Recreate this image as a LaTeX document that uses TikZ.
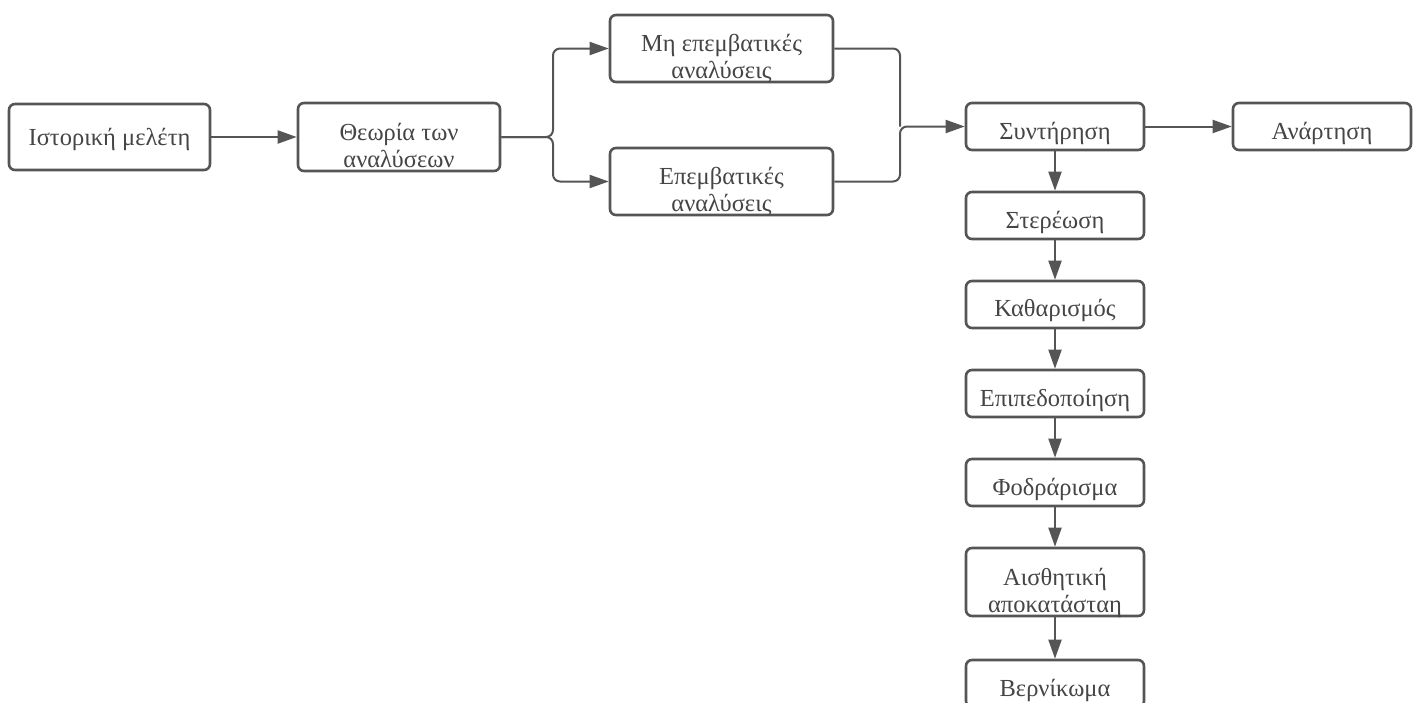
\documentclass[tikz,border=0pt]{standalone}
\usepackage{fontspec}
\setmainfont{Liberation Serif}
\usetikzlibrary{arrows.meta}
\definecolor{edge}{HTML}{555555}
\definecolor{txt}{HTML}{454545}
\tikzset{
  box/.style={draw=edge, line width=2.6pt, rounded corners=6pt, fill=white, inner sep=0pt},
  wide/.style={box, minimum width=223pt, minimum height=67pt},
  narrow/.style={box, minimum width=178pt, minimum height=47pt},
  lbl/.style={anchor=base, inner sep=0pt, text=txt, font=\fontsize{24.5}{26.5}\selectfont, align=center},
  conn/.style={draw=edge, line width=2pt, -{Triangle[length=19pt,width=13pt]}},
}
\begin{document}
\begin{tikzpicture}[x=1pt,y=-1pt]
\useasboundingbox (0,0) rectangle (1416,702);
\clip (0,0) rectangle (1416,702);
% boxes
\node[box, minimum width=201pt, minimum height=66pt] (ist) at (109.5,137) {};
\node[box, minimum width=202pt, minimum height=68pt] (theo) at (399,137) {};
\node[wide] (mh) at (721.5,48.5) {};
\node[wide] (ep) at (721.5,181.5) {};
\node[narrow] (syn) at (1055,126.5) {};
\node[narrow] (anar) at (1322,126.5) {};
\node[narrow] (ster) at (1055,215.5) {};
\node[narrow] (kath) at (1055,304.5) {};
\node[narrow] (epip) at (1055,393.5) {};
\node[narrow] (fodr) at (1055,482.5) {};
\node[narrow, minimum height=68pt] (aisth) at (1055,582) {};
\node[narrow] (vern) at (1055,683.5) {};
% labels (base = baseline of the last line)
\node[lbl] (ist-t) at (109.5,145) {Ιστορική μελέτη};
\node[lbl] (theo-t) at (399,167) {Θεωρία των\\αναλύσεων};
\node[lbl] (mh-t) at (721.5,78) {Μη επεμβατικές\\αναλύσεις};
\node[lbl] (ep-t) at (721.5,211) {Επεμβατικές\\αναλύσεις};
\node[lbl] (syn-t) at (1055,139) {Συντήρηση};
\node[lbl] (anar-t) at (1322,139) {Ανάρτηση};
\node[lbl] (ster-t) at (1055,228) {Στερέωση};
\node[lbl] (kath-t) at (1055,316) {Καθαρισμός};
\node[lbl] (epip-t) at (1055,406) {Επιπεδοποίηση};
\node[lbl] (fodr-t) at (1055,495) {Φοδράρισμα};
\node[lbl] (aisth-t) at (1055,612) {Αισθητική\\αποκατάσταη};
\node[lbl] (vern-t) at (1055,696) {Βερνίκωμα};
% connectors
\coordinate (br) at (553,137);
\coordinate (mg) at (900,126.5);
\draw[conn] (ist.east) -- (theo.west);
\draw[conn, rounded corners=7pt] (theo.east) -- (br) -- (br |- mh.west) -- (mh.west);
\draw[conn, rounded corners=7pt] (theo.east) -- (br) -- (br |- ep.west) -- (ep.west);
\draw[edge, line width=2pt, rounded corners=7pt] (mh.east) -- (mh.east -| mg) -- (mg);
\draw[conn, rounded corners=7pt] (ep.east) -- (ep.east -| mg) -- (mg) -- (syn.west);
\draw[conn] (syn.east) -- (anar.west);
\draw[conn] (syn.south) -- (ster.north);
\draw[conn] (ster.south) -- (kath.north);
\draw[conn] (kath.south) -- (epip.north);
\draw[conn] (epip.south) -- (fodr.north);
\draw[conn] (fodr.south) -- (aisth.north);
\draw[conn] (aisth.south) -- (vern.north);
\end{tikzpicture}
\end{document}
